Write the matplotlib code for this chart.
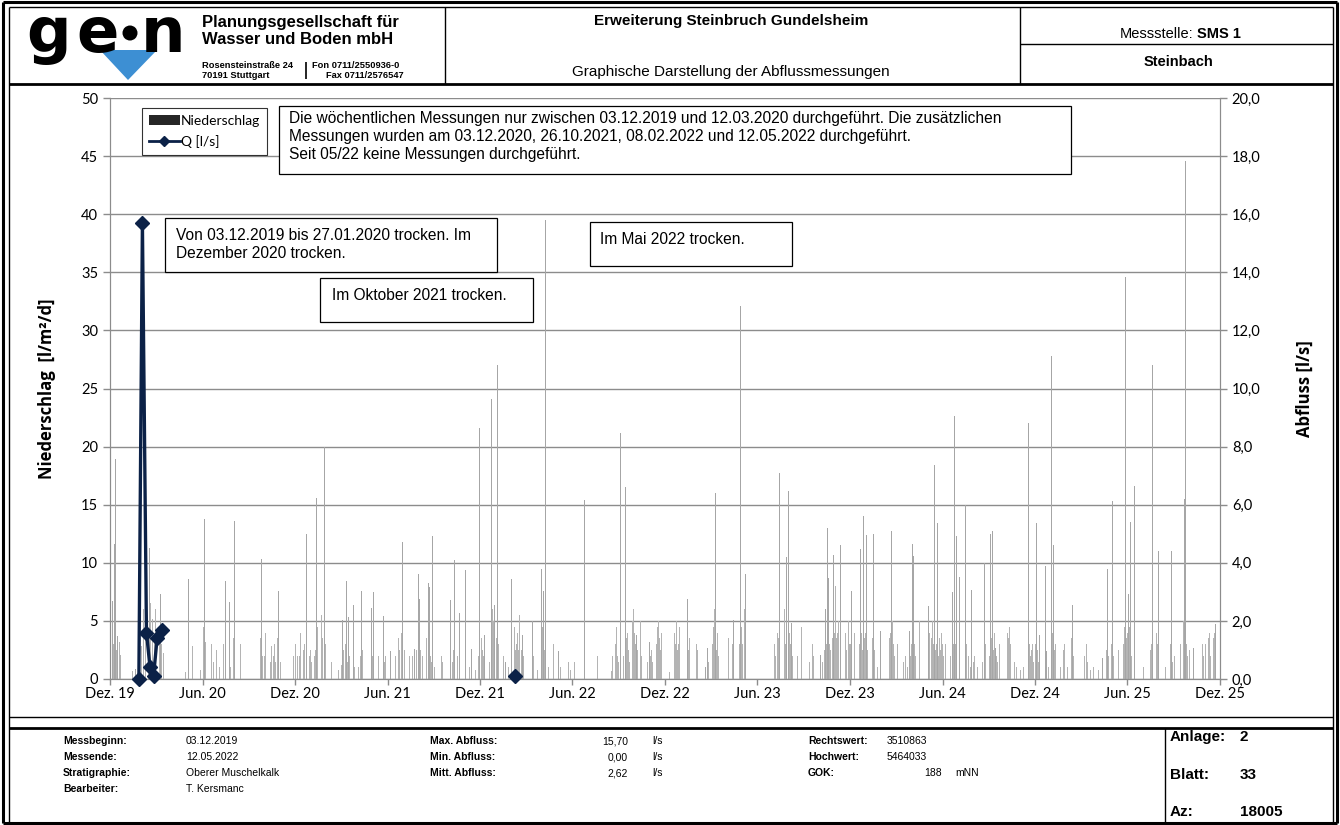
import numpy as np
import pandas as pd
import matplotlib
matplotlib.use("Agg")
import matplotlib.pyplot as plt
from matplotlib.patches import Rectangle, Polygon, Circle, Patch
from matplotlib.lines import Line2D


# daily precipitation, larger events
rain_dates = [
    "2019-12-06", "2019-12-10", "2019-12-12", "2019-12-16", "2019-12-25", "2020-01-04", "2020-01-09",
    "2020-01-20", "2020-02-04", "2020-02-14", "2020-02-17", "2020-02-26", "2020-02-28", "2020-03-05",
    "2020-03-10", "2020-03-19", "2020-05-01", "2020-05-04", "2020-05-11", "2020-05-23", "2020-06-04",
    "2020-06-05", "2020-06-17", "2020-06-27", "2020-07-16", "2020-07-24", "2020-08-03", "2020-08-14",
    "2020-08-18", "2020-08-31", "2020-09-01", "2020-09-24", "2020-09-25", "2020-10-06", "2020-10-26",
    "2020-10-29", "2020-11-11", "2020-11-30", "2020-12-04", "2020-12-06", "2020-12-23", "2020-12-24",
    "2021-01-03", "2021-01-12", "2021-01-21", "2021-01-28", "2021-01-29", "2021-02-03", "2021-02-19",
    "2021-03-04", "2021-03-12", "2021-03-16", "2021-03-26", "2021-04-11", "2021-04-30", "2021-05-04",
    "2021-05-09", "2021-05-21", "2021-05-24", "2021-06-07", "2021-06-22", "2021-06-28", "2021-07-01",
    "2021-07-04", "2021-07-08", "2021-07-10", "2021-07-24", "2021-08-01", "2021-08-03", "2021-08-08",
    "2021-08-16", "2021-08-21", "2021-08-23", "2021-08-29", "2021-08-30", "2021-09-15", "2021-09-25",
    "2021-10-03", "2021-10-11", "2021-10-20", "2021-10-21", "2021-11-02", "2021-11-14", "2021-11-30",
    "2021-12-03", "2021-12-10", "2021-12-23", "2021-12-26", "2021-12-29", "2022-01-03", "2022-01-04",
    "2022-01-07", "2022-01-20", "2022-02-01", "2022-02-06", "2022-02-16", "2022-02-23", "2022-03-14",
    "2022-04-01", "2022-04-05", "2022-04-09", "2022-04-24", "2022-05-05", "2022-05-22", "2022-06-04",
    "2022-06-25", "2022-06-30", "2022-07-20", "2022-08-16", "2022-08-26", "2022-09-04", "2022-09-09",
    "2022-09-13", "2022-09-14", "2022-09-17", "2022-09-27", "2022-10-01", "2022-10-06", "2022-10-13",
    "2022-10-21", "2022-10-31", "2022-11-09", "2022-11-17", "2022-11-19", "2022-11-27", "2022-12-07",
    "2022-12-21", "2022-12-23", "2023-01-08", "2023-01-14", "2023-01-19", "2023-02-02", "2023-02-19",
    "2023-02-23", "2023-03-08", "2023-03-11", "2023-03-25", "2023-03-28", "2023-04-12", "2023-04-15",
    "2023-04-29", "2023-05-06", "2023-05-09", "2023-05-16", "2023-06-20", "2023-07-04", "2023-07-10",
    "2023-07-15", "2023-07-24", "2023-07-29", "2023-08-01", "2023-08-02", "2023-08-08", "2023-08-25",
    "2023-08-31", "2023-09-17", "2023-10-04", "2023-10-14", "2023-10-18", "2023-10-20", "2023-10-29",
    "2023-10-30", "2023-11-12", "2023-11-13", "2023-11-18", "2023-11-27", "2023-12-04", "2023-12-09",
    "2023-12-21", "2023-12-22", "2023-12-28", "2024-01-03", "2024-01-17", "2024-01-22", "2024-01-31",
    "2024-02-06", "2024-02-07", "2024-02-21", "2024-02-22", "2024-03-11", "2024-03-28", "2024-04-03",
    "2024-04-05", "2024-04-16", "2024-04-20", "2024-05-04", "2024-05-09", "2024-05-15", "2024-05-16",
    "2024-05-22", "2024-05-29", "2024-05-31", "2024-06-14", "2024-06-21", "2024-06-25", "2024-06-29",
    "2024-07-05", "2024-07-09", "2024-07-16", "2024-07-28", "2024-07-31", "2024-08-06", "2024-08-14",
    "2024-08-23", "2024-09-04", "2024-09-08", "2024-09-14", "2024-09-25", "2024-09-30", "2024-10-06",
    "2024-10-10", "2024-10-14", "2024-11-11", "2024-11-18", "2024-11-19", "2024-12-04", "2024-12-10",
    "2024-12-21", "2024-12-23", "2025-01-02", "2025-01-06", "2025-01-23", "2025-02-12", "2025-02-13",
    "2025-02-26", "2025-03-11", "2025-03-31", "2025-04-13", "2025-04-23", "2025-05-03", "2025-05-21",
    "2025-05-28", "2025-06-03", "2025-06-07", "2025-06-15", "2025-07-06", "2025-07-16", "2025-07-21",
    "2025-07-28", "2025-07-30", "2025-08-02", "2025-08-27", "2025-09-05", "2025-09-09", "2025-09-22",
    "2025-09-24", "2025-10-10", "2025-10-21", "2025-10-25", "2025-10-30", "2025-11-15", "2025-11-22",
]
rain_mm = [
    6.7, 11.6, 18.9, 3.7, 10.2, 1.5, 1.2,
    0.9, 16.0, 10.6, 11.3, 12.3, 16.0, 14.8,
    7.3, 6.6, 5.6, 8.6, 23.6, 3.8, 11.3,
    13.8, 8.4, 3.7, 8.4, 6.6, 13.6, 7.0,
    6.0, 19.3, 13.5, 15.4, 10.3, 7.7, 10.2,
    7.6, 3.8, 8.6, 6.3, 5.7, 12.5, 7.6,
    5.6, 15.6, 13.1, 20.0, 5.6, 11.7, 4.0,
    5.1, 8.4, 5.3, 6.4, 7.6, 6.1, 7.5,
    6.7, 7.9, 5.4, 2.4, 29.0, 10.8, 11.8,
    5.9, 3.8, 17.0, 2.6, 9.0, 6.9, 3.8,
    9.0, 8.3, 7.9, 12.3, 5.9, 5.6, 2.4,
    6.8, 10.2, 19.3, 5.7, 9.4, 2.6, 21.6,
    11.0, 3.8, 24.1, 8.4, 6.4, 11.1, 27.0,
    5.9, 1.5, 8.6, 19.0, 14.0, 3.8, 5.0,
    9.5, 7.6, 39.5, 12.9, 2.4, 8.2, 2.7,
    15.4, 7.0, 11.3, 0.5, 16.0, 21.2, 5.9,
    21.0, 16.5, 6.9, 11.0, 29.8, 3.8, 13.5,
    12.5, 3.2, 3.8, 14.0, 17.0, 4.5, 1.0,
    6.0, 11.7, 4.8, 6.9, 4.9, 8.7, 1.0,
    2.7, 26.0, 16.0, 9.0, 8.7, 6.6, 5.1,
    32.1, 16.2, 9.0, 3.7, 6.0, 9.0, 10.0,
    17.7, 18.5, 10.5, 20.6, 16.2, 4.8, 9.1,
    14.4, 9.9, 2.1, 6.0, 13.0, 8.7, 16.5,
    10.7, 14.7, 11.5, 12.9, 21.6, 7.6, 8.5,
    18.5, 11.2, 14.0, 12.4, 12.5, 7.1, 4.1,
    18.0, 9.8, 12.7, 12.0, 6.1, 4.1, 11.6,
    10.6, 17.5, 18.5, 6.3, 1.7, 8.2, 18.4,
    13.4, 10.5, 16.4, 6.6, 7.5, 22.6, 12.3,
    8.8, 8.2, 15.0, 7.7, 5.5, 8.0, 8.8,
    10.0, 12.5, 12.7, 2.7, 19.3, 4.1, 42.3,
    12.6, 21.0, 3.7, 22.0, 18.3, 13.4, 3.8,
    9.7, 2.4, 27.8, 11.5, 4.0, 8.9, 6.4,
    4.8, 6.8, 1.8, 1.8, 9.5, 15.3, 6.3,
    34.6, 7.3, 13.5, 16.6, 2.5, 5.8, 27.0,
    34.5, 14.2, 11.0, 11.0, 3.0, 5.8, 15.5,
    44.6, 2.7, 7.9, 21.8, 3.5, 2.9, 4.7,
]

# light rain days (low band of the chart), estimated month by month
light_dates = [
    "2019-12-01", "2019-12-02", "2019-12-03", "2019-12-07", "2019-12-08", "2019-12-13", "2019-12-14",
    "2019-12-20", "2019-12-21", "2019-12-22", "2019-12-27", "2020-01-02", "2020-01-14", "2020-01-27",
    "2020-01-29", "2020-01-31", "2020-02-01", "2020-02-02", "2020-02-05", "2020-02-06", "2020-02-08",
    "2020-02-09", "2020-02-10", "2020-02-12", "2020-02-15", "2020-02-19", "2020-02-22", "2020-02-23",
    "2020-02-24", "2020-02-27", "2020-02-29", "2020-03-01", "2020-03-03", "2020-03-07", "2020-03-08",
    "2020-03-12", "2020-03-13", "2020-03-16", "2020-04-28", "2020-05-03", "2020-05-12", "2020-05-13",
    "2020-05-28", "2020-06-03", "2020-06-06", "2020-06-07", "2020-06-11", "2020-06-13", "2020-06-14",
    "2020-06-18", "2020-06-22", "2020-06-28", "2020-06-29", "2020-07-04", "2020-07-12", "2020-07-17",
    "2020-07-25", "2020-07-26", "2020-08-01", "2020-08-02", "2020-08-04", "2020-08-10", "2020-08-15",
    "2020-08-16", "2020-08-20", "2020-08-26", "2020-08-28", "2020-09-02", "2020-09-03", "2020-09-20",
    "2020-09-23", "2020-09-26", "2020-09-27", "2020-09-28", "2020-10-01", "2020-10-02", "2020-10-03",
    "2020-10-08", "2020-10-10", "2020-10-13", "2020-10-15", "2020-10-16", "2020-10-19", "2020-10-21",
    "2020-10-23", "2020-10-24", "2020-10-27", "2020-10-30", "2020-11-02", "2020-11-05", "2020-11-16",
    "2020-11-27", "2020-12-01", "2020-12-02", "2020-12-05", "2020-12-08", "2020-12-09", "2020-12-11",
    "2020-12-12", "2020-12-14", "2020-12-17", "2020-12-19", "2020-12-22", "2020-12-26", "2020-12-28",
    "2020-12-29", "2020-12-31", "2021-01-02", "2021-01-05", "2021-01-08", "2021-01-10", "2021-01-14",
    "2021-01-15", "2021-01-19", "2021-01-22", "2021-01-24", "2021-01-27", "2021-01-30", "2021-01-31",
    "2021-02-01", "2021-02-02", "2021-02-05", "2021-02-06", "2021-02-10", "2021-02-24", "2021-03-02",
    "2021-03-06", "2021-03-10", "2021-03-11", "2021-03-14", "2021-03-18", "2021-03-28", "2021-04-05",
    "2021-04-09", "2021-04-13", "2021-04-20", "2021-04-26", "2021-05-02", "2021-05-05", "2021-05-07",
    "2021-05-11", "2021-05-13", "2021-05-14", "2021-05-17", "2021-05-19", "2021-05-23", "2021-05-26",
    "2021-05-28", "2021-06-04", "2021-06-10", "2021-06-17", "2021-06-23", "2021-06-25", "2021-06-29",
    "2021-06-30", "2021-07-02", "2021-07-05", "2021-07-06", "2021-07-12", "2021-07-13", "2021-07-14",
    "2021-07-17", "2021-07-20", "2021-07-25", "2021-07-28", "2021-08-02", "2021-08-05", "2021-08-09",
    "2021-08-12", "2021-08-17", "2021-08-18", "2021-08-22", "2021-08-25", "2021-08-27", "2021-09-01",
    "2021-09-02", "2021-09-16", "2021-09-18", "2021-09-24", "2021-10-04", "2021-10-07", "2021-10-09",
    "2021-10-12", "2021-10-17", "2021-10-22", "2021-10-28", "2021-11-03", "2021-11-05", "2021-11-10",
    "2021-11-19", "2021-11-22", "2021-11-28", "2021-12-01", "2021-12-04", "2021-12-06", "2021-12-08",
    "2021-12-12", "2021-12-15", "2021-12-19", "2021-12-22", "2021-12-24", "2021-12-25", "2021-12-27",
    "2021-12-30", "2022-01-01", "2022-01-02", "2022-01-05", "2022-01-06", "2022-01-09", "2022-01-13",
    "2022-01-16", "2022-01-26", "2022-01-29", "2022-02-02", "2022-02-04", "2022-02-07", "2022-02-09",
    "2022-02-11", "2022-02-13", "2022-02-15", "2022-02-17", "2022-02-18", "2022-02-20", "2022-02-21",
    "2022-02-25", "2022-03-02", "2022-03-16", "2022-03-24", "2022-04-02", "2022-04-03", "2022-04-07",
    "2022-04-08", "2022-04-10", "2022-04-15", "2022-04-22", "2022-04-25", "2022-04-28", "2022-05-09",
    "2022-05-16", "2022-05-19", "2022-05-23", "2022-05-24", "2022-05-28", "2022-06-05", "2022-06-12",
    "2022-06-22", "2022-06-24", "2022-06-26", "2022-06-28", "2022-07-04", "2022-07-21", "2022-08-17",
    "2022-08-19", "2022-08-25", "2022-08-27", "2022-08-29", "2022-08-31", "2022-09-01", "2022-09-03",
    "2022-09-05", "2022-09-07", "2022-09-10", "2022-09-15", "2022-09-16", "2022-09-18", "2022-09-20",
    "2022-09-22", "2022-09-25", "2022-09-28", "2022-09-30", "2022-10-02", "2022-10-04", "2022-10-08",
    "2022-10-11", "2022-10-14", "2022-10-16", "2022-10-19", "2022-10-22", "2022-10-24", "2022-10-27",
    "2022-11-02", "2022-11-04", "2022-11-06", "2022-11-11", "2022-11-14", "2022-11-16", "2022-11-18",
    "2022-11-20", "2022-11-22", "2022-11-24", "2022-11-25", "2022-11-29", "2022-12-03", "2022-12-10",
    "2022-12-15", "2022-12-19", "2022-12-20", "2022-12-22", "2022-12-24", "2022-12-26", "2022-12-28",
    "2022-12-30", "2023-01-02", "2023-01-04", "2023-01-06", "2023-01-09", "2023-01-10", "2023-01-12",
    "2023-01-15", "2023-01-16", "2023-01-18", "2023-01-21", "2023-01-25", "2023-01-29", "2023-02-01",
    "2023-02-03", "2023-02-06", "2023-02-12", "2023-02-25", "2023-03-02", "2023-03-05", "2023-03-07",
    "2023-03-09", "2023-03-10", "2023-03-13", "2023-03-15", "2023-03-17", "2023-03-20", "2023-03-22",
    "2023-03-24", "2023-03-26", "2023-03-30", "2023-04-02", "2023-04-05", "2023-04-08", "2023-04-10",
    "2023-04-13", "2023-04-16", "2023-04-20", "2023-04-24", "2023-04-27", "2023-05-01", "2023-05-03",
    "2023-05-07", "2023-05-10", "2023-05-12", "2023-05-14", "2023-05-18", "2023-05-22", "2023-06-16",
    "2023-06-22", "2023-06-28", "2023-07-05", "2023-07-07", "2023-07-11", "2023-07-13", "2023-07-16",
    "2023-07-18", "2023-07-20", "2023-07-22", "2023-07-25", "2023-07-27", "2023-07-30", "2023-08-03",
    "2023-08-04", "2023-08-06", "2023-08-10", "2023-08-13", "2023-08-17", "2023-08-20", "2023-08-27",
    "2023-08-28", "2023-09-02", "2023-09-12", "2023-09-18", "2023-09-20", "2023-09-25", "2023-10-08",
    "2023-10-12", "2023-10-15", "2023-10-16", "2023-10-19", "2023-10-21", "2023-10-22", "2023-10-24",
    "2023-10-25", "2023-10-27", "2023-10-28", "2023-10-31", "2023-11-01", "2023-11-02", "2023-11-03",
    "2023-11-04", "2023-11-05", "2023-11-06", "2023-11-07", "2023-11-08", "2023-11-09", "2023-11-10",
    "2023-11-14", "2023-11-15", "2023-11-16", "2023-11-19", "2023-11-20", "2023-11-22", "2023-11-24",
    "2023-11-25", "2023-11-28", "2023-11-30", "2023-12-01", "2023-12-02", "2023-12-03", "2023-12-05",
    "2023-12-07", "2023-12-10", "2023-12-11", "2023-12-13", "2023-12-15", "2023-12-17", "2023-12-19",
    "2023-12-20", "2023-12-23", "2023-12-24", "2023-12-26", "2023-12-30", "2024-01-01", "2024-01-02",
    "2024-01-05", "2024-01-08", "2024-01-12", "2024-01-15", "2024-01-18", "2024-01-19", "2024-01-25",
    "2024-01-28", "2024-02-01", "2024-02-03", "2024-02-05", "2024-02-08", "2024-02-10", "2024-02-12",
    "2024-02-14", "2024-02-17", "2024-02-19", "2024-02-23", "2024-02-25", "2024-02-27", "2024-03-01",
    "2024-03-04", "2024-03-07", "2024-03-09", "2024-03-13", "2024-03-16", "2024-03-20", "2024-03-24",
    "2024-03-30", "2024-04-01", "2024-04-04", "2024-04-07", "2024-04-09", "2024-04-12", "2024-04-14",
    "2024-04-17", "2024-04-18", "2024-04-22", "2024-04-24", "2024-04-27", "2024-04-29", "2024-05-01",
    "2024-05-03", "2024-05-06", "2024-05-10", "2024-05-12", "2024-05-14", "2024-05-17", "2024-05-18",
    "2024-05-20", "2024-05-24", "2024-05-26", "2024-05-28", "2024-05-30", "2024-06-01", "2024-06-03",
    "2024-06-07", "2024-06-10", "2024-06-12", "2024-06-17", "2024-06-23", "2024-06-26", "2024-06-27",
    "2024-06-30", "2024-07-02", "2024-07-07", "2024-07-10", "2024-07-13", "2024-07-18", "2024-07-22",
    "2024-07-26", "2024-08-01", "2024-08-03", "2024-08-09", "2024-08-16", "2024-08-19", "2024-08-25",
    "2024-08-28", "2024-09-02", "2024-09-06", "2024-09-10", "2024-09-12", "2024-09-13", "2024-09-16",
    "2024-09-18", "2024-09-22", "2024-09-26", "2024-09-28", "2024-10-02", "2024-10-04", "2024-10-07",
    "2024-10-08", "2024-10-09", "2024-10-11", "2024-10-13", "2024-10-16", "2024-10-18", "2024-10-21",
    "2024-10-25", "2024-11-02", "2024-11-08", "2024-11-13", "2024-11-15", "2024-11-17", "2024-11-20",
    "2024-11-21", "2024-11-22", "2024-11-24", "2024-11-26", "2024-11-28", "2024-12-01", "2024-12-02",
    "2024-12-05", "2024-12-06", "2024-12-08", "2024-12-12", "2024-12-15", "2024-12-18", "2024-12-20",
    "2024-12-22", "2024-12-27", "2024-12-30", "2025-01-01", "2025-01-03", "2025-01-04", "2025-01-05",
    "2025-01-08", "2025-01-10", "2025-01-13", "2025-01-17", "2025-01-20", "2025-01-26", "2025-01-28",
    "2025-02-03", "2025-02-10", "2025-02-11", "2025-02-14", "2025-02-15", "2025-02-18", "2025-02-24",
    "2025-03-03", "2025-03-08", "2025-03-12", "2025-03-14", "2025-03-20", "2025-03-26", "2025-04-05",
    "2025-04-18", "2025-04-21", "2025-04-25", "2025-04-28", "2025-05-01", "2025-05-05", "2025-05-08",
    "2025-05-15", "2025-05-18", "2025-05-22", "2025-05-24", "2025-05-26", "2025-05-29", "2025-05-30",
    "2025-06-01", "2025-06-02", "2025-06-05", "2025-06-06", "2025-06-09", "2025-06-12", "2025-06-18",
    "2025-06-24", "2025-07-03", "2025-07-10", "2025-07-14", "2025-07-17", "2025-07-19", "2025-07-22",
    "2025-07-24", "2025-07-26", "2025-07-29", "2025-07-31", "2025-08-01", "2025-08-04", "2025-08-06",
    "2025-08-10", "2025-08-15", "2025-08-22", "2025-08-25", "2025-08-29", "2025-09-02", "2025-09-07",
    "2025-09-11", "2025-09-14", "2025-09-17", "2025-09-19", "2025-09-20", "2025-09-23", "2025-09-25",
    "2025-09-26", "2025-09-28", "2025-10-02", "2025-10-05", "2025-10-13", "2025-10-17", "2025-10-19",
    "2025-10-20", "2025-10-22", "2025-10-23", "2025-10-24", "2025-10-26", "2025-10-27", "2025-10-29",
    "2025-11-02", "2025-11-05", "2025-11-08", "2025-11-10", "2025-11-12", "2025-11-18", "2025-11-20",
    "2025-11-25", "2025-11-27", "2025-11-29",
]
light_mm = [
    2.8, 3.5, 1.2, 2.0, 3.0, 4.0, 2.5, 3.2, 1.4, 2.1, 0.8, 0.6, 0.7, 0.5, 2.2, 3.5,
    2.8, 5.5, 6.0, 3.0, 4.5, 8.0, 5.0, 3.5, 4.2, 6.5, 3.0, 5.2, 2.0, 4.0, 6.0,
    3.2, 5.5, 2.5, 4.0, 3.0, 1.8, 2.2, 0.6, 1.8, 2.8, 1.5, 0.8,
    4.5, 6.0, 3.2, 2.0, 5.0, 2.5, 3.0, 1.5, 2.5, 1.2, 1.0, 3.0, 2.0, 2.6, 1.0,
    3.5, 2.5, 4.0, 2.0, 3.0, 1.5, 3.8, 2.2, 1.8, 2.5, 1.0, 2.0, 3.5, 4.5, 2.0, 1.2,
    2.0, 3.5, 4.0, 2.5, 3.0, 1.5, 2.8, 4.0, 2.0, 3.0, 1.5, 2.5, 3.5, 2.0,
    1.5, 0.6, 1.0, 2.0, 3.0, 4.5, 2.0, 3.5, 2.0, 4.0, 2.5, 1.5, 2.5, 3.0, 4.5, 3.0, 4.0, 2.0, 2.5,
    1.5, 3.0, 2.0, 2.5, 4.5, 3.0, 2.0, 5.5, 3.5, 4.0, 3.0, 2.0, 4.5, 3.0, 2.0, 3.5, 1.5, 0.8,
    1.2, 2.5, 3.0, 2.0, 1.5, 2.0, 1.0, 1.0, 2.0, 2.5, 0.8, 1.5,
    2.0, 3.0, 2.5, 3.5, 4.0, 2.0, 3.0, 2.5, 3.0, 1.5, 2.0, 1.0, 1.5, 2.0, 3.5, 2.5, 4.0, 3.0,
    4.0, 2.5, 3.0, 3.0, 4.5, 2.0, 1.5, 2.0, 1.0, 2.5, 3.0, 2.5, 2.0, 1.5, 3.5, 2.0, 3.0, 2.0, 1.5,
    2.0, 1.0, 2.0, 1.5, 1.0, 2.0, 1.5, 2.5, 3.0, 2.0, 3.0, 1.0, 2.5, 1.5, 1.0, 1.5, 0.8, 2.0,
    4.5, 3.5, 2.5, 2.0, 1.5, 0.8, 1.5, 3.5, 4.0, 6.0, 5.0, 3.5, 4.5, 3.5, 7.0, 3.0, 2.0, 1.5, 2.0, 1.0, 1.5,
    2.0, 3.5, 4.5, 2.5, 3.0, 4.0, 2.5, 5.5, 3.0, 4.0, 2.5, 2.0, 1.0, 2.0, 0.8,
    3.0, 4.5, 2.5, 3.5, 2.0, 1.0, 2.5, 3.0, 1.5, 1.0, 2.5, 2.0, 2.5, 1.5, 0.8,
    1.5, 0.6, 4.0, 2.5, 3.0, 2.0, 1.2, 2.0, 0.7, 2.0, 3.0, 4.5, 2.0, 1.5,
    3.0, 2.5, 4.0, 3.0, 2.0, 7.0, 3.5, 4.0, 2.5, 1.5, 3.0, 5.0, 6.0,
    4.0, 3.0, 2.5, 3.5, 5.0, 2.0, 3.0, 4.5, 2.0, 1.5,
    2.0, 2.5, 1.5, 2.0, 3.0, 4.5, 5.0, 3.5, 2.5, 4.0, 2.0, 1.5,
    0.8, 0.6, 1.0, 2.5, 4.0, 3.0, 5.0, 2.5, 3.0, 4.5,
    3.0, 2.0, 4.5, 3.5, 2.0, 3.0, 4.0, 2.5, 3.5, 2.0, 1.0, 1.5, 3.0, 2.5, 1.0, 0.8, 1.5,
    2.0, 3.0, 4.5, 6.0, 3.5, 2.5, 4.0, 2.0, 3.0, 2.5, 4.5, 2.5, 3.0,
    2.0, 3.5, 2.5, 4.0, 3.0, 2.0, 1.5, 2.0, 3.0, 4.5, 3.0, 6.0, 4.0, 2.0, 3.0, 1.5, 1.0,
    1.5, 2.5, 1.0, 3.0, 2.0, 4.0, 3.5, 5.0, 3.0, 2.5, 4.0, 6.0, 3.0, 5.0,
    6.0, 4.0, 3.0, 2.0, 1.5, 1.0, 2.0, 3.0, 4.5, 2.0, 1.5, 3.0, 2.0, 1.0,
    1.5, 2.5, 4.0, 3.0, 4.5, 5.5, 3.0, 2.5, 4.0, 5.0, 3.5, 6.0,
    4.0, 3.0, 8.0, 5.0, 3.5, 6.5, 4.0, 2.5, 5.0, 3.0, 6.0, 4.0, 3.0, 5.5, 3.5, 4.0, 2.5, 3.0, 5.0, 3.0,
    4.5, 3.0, 5.0, 3.5, 2.5, 4.0, 3.0, 5.5, 3.0, 2.0, 4.0, 3.0, 5.0, 4.0, 2.5, 3.5,
    4.0, 3.0, 2.5, 1.5, 2.0, 3.5, 4.5, 2.5, 1.0, 1.5,
    2.0, 3.0, 5.0, 4.0, 3.0, 2.0, 2.5, 3.5, 4.0, 5.0, 3.0, 2.0,
    2.5, 3.0, 2.0, 4.0, 2.5, 1.5, 2.0, 1.0, 2.0,
    3.0, 4.5, 3.0, 2.0, 3.5, 4.0, 5.0, 3.0, 4.0, 2.5, 2.0, 1.5,
    3.0, 2.0, 4.0, 3.5, 5.0, 3.0, 4.0, 2.5, 3.0, 2.0, 3.5, 2.5, 4.0,
    3.0, 2.0, 3.0, 2.5, 1.5, 2.0, 3.0, 4.5, 3.0, 2.0,
    2.5, 3.0, 2.0, 1.5, 3.0, 2.0, 1.0, 1.5, 2.0, 1.0, 2.5, 1.5, 3.0, 2.0,
    2.0, 3.5, 2.5, 4.0, 3.0, 2.0, 1.5, 3.0, 4.5, 2.5,
    3.0, 5.0, 4.0, 6.0, 3.5, 4.5, 3.0, 2.5, 2.0, 1.5, 1.0,
    0.8, 1.0, 2.5, 3.5, 4.5, 3.0, 5.0, 2.0, 2.5, 3.0, 1.5,
    2.0, 3.0, 4.0, 2.5, 1.5, 2.0, 3.0, 2.5, 4.0, 3.0, 1.0, 2.0,
    3.5, 6.0, 4.0, 3.0, 2.5, 3.0, 2.0, 1.5, 1.0, 2.5, 3.0,
    1.0, 2.5, 3.5, 4.0, 2.0, 1.5, 2.0, 1.0, 2.0, 3.0, 1.5, 0.8, 1.0,
    0.8, 1.0, 2.5, 2.0, 1.5, 3.0, 2.0, 1.5, 2.5, 3.0, 4.0, 3.0, 4.5, 5.0, 3.5,
    4.0, 3.0, 4.5, 3.0, 2.0, 2.5, 1.5, 1.0,
    1.0, 1.5, 2.0, 2.5, 3.0, 4.0, 5.0, 3.5, 4.0, 3.0, 3.0, 4.5, 2.0, 1.5, 1.0, 2.0, 3.0, 1.5,
    2.0, 1.5, 2.5, 3.0, 2.0, 3.5, 5.0, 6.0, 4.5, 3.0, 2.0,
    2.5, 1.5, 2.0, 3.0, 4.5, 6.0, 5.0, 4.0, 5.5, 4.0, 3.0, 2.0,
    3.0, 2.0, 3.5, 4.0, 2.0, 3.5, 4.0, 2.5, 3.0, 4.5,
]

# discharge measurements (nan = trocken)
q_dates = ["2019-12-03", "2019-12-10", "2019-12-17", "2020-01-07", "2020-01-21", "2020-01-27",
           "2020-02-03", "2020-02-11", "2020-02-18", "2020-02-25", "2020-03-03", "2020-03-12",
           "2020-12-03", "2021-10-26", "2022-02-08", "2022-05-12"]
q_values = [np.nan, np.nan, np.nan, np.nan, np.nan, 0.0,
            15.7, 1.6, 0.4, 0.1, 1.4, 1.7,
            np.nan, np.nan, 0.1, np.nan]

x_tick_dates = ["2019-12-01", "2020-06-01", "2020-12-01", "2021-06-01", "2021-12-01", "2022-06-01",
                "2022-12-01", "2023-06-01", "2023-12-01", "2024-06-01", "2024-12-01", "2025-06-01",
                "2025-12-01"]
x_tick_labels = ["Dez. 19", "Jun. 20", "Dez. 20", "Jun. 21", "Dez. 21", "Jun. 22", "Dez. 22",
                 "Jun. 23", "Dez. 23", "Jun. 24", "Dez. 24", "Jun. 25", "Dez. 25"]
left_ticks = [0, 5, 10, 15, 20, 25, 30, 35, 40, 45, 50]
right_ticks = [0, 2, 4, 6, 8, 10, 12, 14, 16, 18, 20]
right_tick_labels = ["0,0", "2,0", "4,0", "6,0", "8,0", "10,0", "12,0", "14,0", "16,0", "18,0", "20,0"]

W, H = 1340, 825
AX_FONT = ["Lato", "DejaVu Sans"]
TXT_FONT = ["Liberation Sans", "DejaVu Sans"]
NARROW = ["Liberation Sans Narrow", "Liberation Sans", "DejaVu Sans"]
NAVY = "#0b2147"

fig = plt.figure(figsize=(W / 100, H / 100), dpi=100)

# ---- chart
ax = fig.add_axes([110 / W, 1 - 679 / H, 1110 / W, 581 / H])
ax2 = ax.twinx()

ax.bar(pd.to_datetime(light_dates), light_mm, width=0.9, color="#b4b4b4", linewidth=0, zorder=2)
ax.bar(pd.to_datetime(rain_dates), rain_mm, width=0.9, color="#a6a6a6", linewidth=0, zorder=2)
ax.set_ylim(0, 50)
ax.set_yticks(left_ticks)
ax.set_yticklabels([str(t) for t in left_ticks], fontsize=10.5, family=AX_FONT)
ax.grid(axis="y", color="#8c8c8c", lw=1)
ax.set_axisbelow(True)

xt = pd.to_datetime(x_tick_dates)
ax.set_xlim(xt[0], xt[-1])
ax.set_xticks(xt)
ax.set_xticklabels(x_tick_labels, fontsize=10.5, family=AX_FONT)

qd = pd.to_datetime(q_dates)
ax2.plot(qd, q_values, color=NAVY, lw=2.4, marker="D", ms=7, zorder=5, clip_on=False)
ax2.set_ylim(0, 20)
ax2.set_yticks(right_ticks)
ax2.set_yticklabels(right_tick_labels, fontsize=10.5, family=AX_FONT)

for a in (ax, ax2):
    for s in a.spines.values():
        s.set_color("#8c8c8c")
    a.spines["top"].set_visible(False)
    a.tick_params(colors="#8c8c8c", labelcolor="black", length=5, width=1)
ax.tick_params(axis="x", length=4, pad=2)

ax.set_ylabel("Niederschlag  [l/m²/d]", fontsize=12, fontweight="bold", family=["Open Sans", "DejaVu Sans"])
ax.yaxis.set_label_coords(-0.049, 0.5)
ax2.set_ylabel("Abfluss [l/s]", fontsize=12, fontweight="bold", family=["Open Sans", "DejaVu Sans"])
ax2.yaxis.set_label_coords(1.068, 0.5)

handles = [Patch(facecolor="#262626", edgecolor="none"),
           Line2D([], [], color=NAVY, lw=2, marker="D", ms=5)]
leg = ax2.legend(handles, ["Niederschlag", "Q [l/s]"], loc="upper left",
                 bbox_to_anchor=(142 / W, 1 - 108 / H), bbox_transform=fig.transFigure,
                 prop={"family": AX_FONT, "size": 10}, frameon=True, fancybox=False,
                 edgecolor="black", handlelength=2.2, handletextpad=0.1, borderpad=0.5,
                 labelspacing=0.6, borderaxespad=0)
leg.get_frame().set_linewidth(0.8)

# ---- page frame / header / footer (pixel coords)
ov = fig.add_axes([0, 0, 1, 1])
ov.set_xlim(0, W)
ov.set_ylim(H, 0)
ov.axis("off")


def line(x0, y0, x1, y1, lw=1.0, c="black"):
    ov.plot([x0, x1], [y0, y1], color=c, lw=lw, solid_capstyle="butt")


def box(x0, y0, x1, y1, lw=0.9):
    ov.add_patch(Rectangle((x0, y0), x1 - x0, y1 - y0, facecolor="white", edgecolor="black", lw=lw, zorder=3))


line(3, 2, 1337, 2, lw=2.2)
line(3, 823, 1337, 823, lw=2.2)
line(3, 2, 3, 823, lw=2.2)
line(1337, 2, 1337, 823, lw=2.2)
line(9, 7, 9, 823, lw=1.0)
line(9, 7, 1333, 7, lw=1.0)
line(1333, 7, 1333, 823, lw=1.0)
line(9, 84, 1333, 84, lw=2.0)
line(445, 7, 445, 84, lw=1.0)
line(1020, 7, 1020, 84, lw=1.0)
line(1020, 44, 1333, 44, lw=1.0)
line(9, 717, 1333, 717, lw=1.0)
line(9, 728, 1333, 728, lw=2.0)
line(1165, 728, 1165, 823, lw=1.0)

# logo
ov.add_patch(Polygon([[100, 50], [157, 50], [128, 80]], closed=True, facecolor="#3d8fd3", edgecolor="none"))
ov.add_patch(Circle((130, 33), 15, facecolor="white", edgecolor="none"))
ov.add_patch(Circle((130, 33), 7.5, facecolor="black", edgecolor="none"))
for lx, letter in [(26, "g"), (76, "e"), (141, "n")]:
    ov.text(lx, 52, letter, fontsize=45, fontweight="heavy", family="DejaVu Sans", color="black",
            va="baseline")

ov.text(202, 22, "Planungsgesellschaft für", fontsize=12, fontweight="bold", family=TXT_FONT, va="center")
ov.text(202, 39, "Wasser und Boden mbH", fontsize=12, fontweight="bold", family=TXT_FONT, va="center")
ov.text(202, 66, "Rosensteinstraße 24", fontsize=6.7, fontweight="bold", family=TXT_FONT, va="center")
ov.text(202, 76, "70191 Stuttgart", fontsize=6.7, fontweight="bold", family=TXT_FONT, va="center")
line(306, 62, 306, 79, lw=1.2)
ov.text(312, 66, "Fon 0711/2550936-0", fontsize=6.7, fontweight="bold", family=TXT_FONT, va="center")
ov.text(404, 76, "Fax 0711/2576547", fontsize=6.7, fontweight="bold", family=TXT_FONT, va="center", ha="right")

ov.text(731, 21, "Erweiterung Steinbruch Gundelsheim", fontsize=11, fontweight="bold", family=NARROW,
        ha="center", va="center")
ov.text(731, 72, "Graphische Darstellung der Abflussmessungen", fontsize=11, family=NARROW,
        ha="center", va="center")
ov.text(1193, 34, "Messstelle:", fontsize=10.5, family=NARROW, ha="right", va="center")
ov.text(1197, 34, "SMS 1", fontsize=10.5, fontweight="bold", family=NARROW, ha="left", va="center")
ov.text(1178, 62, "Steinbach", fontsize=10.5, fontweight="bold", family=NARROW, ha="center", va="center")

# annotation boxes in the chart
afs = 11.2
box(279, 106, 1071, 174)
ov.text(289, 119, "Die wöchentlichen Messungen nur zwischen 03.12.2019 und 12.03.2020 durchgeführt. Die zusätzlichen",
        fontsize=afs, family=TXT_FONT, va="center", zorder=4)
ov.text(289, 137, "Messungen wurden am 03.12.2020, 26.10.2021, 08.02.2022 und 12.05.2022 durchgeführt.",
        fontsize=afs, family=TXT_FONT, va="center", zorder=4)
ov.text(289, 155, "Seit 05/22 keine Messungen durchgeführt.", fontsize=afs, family=TXT_FONT, va="center", zorder=4)

box(165, 218, 497, 272)
ov.text(176, 235, "Von 03.12.2019 bis 27.01.2020 trocken. Im", fontsize=afs, family=TXT_FONT, va="center", zorder=4)
ov.text(176, 253, "Dezember 2020 trocken.", fontsize=afs, family=TXT_FONT, va="center", zorder=4)

box(320, 278, 533, 322)
ov.text(332, 296, "Im Oktober 2021 trocken.", fontsize=afs, family=TXT_FONT, va="center", zorder=4)

box(590, 222, 792, 266)
ov.text(600, 240, "Im Mai 2022 trocken.", fontsize=afs, family=TXT_FONT, va="center", zorder=4)

# footer table
fs = 7.5
rows = [741, 757, 773, 789]
for y, lab, val in zip(rows, ["Messbeginn:", "Messende:", "Stratigraphie:", "Bearbeiter:"],
                       ["03.12.2019", "12.05.2022", "Oberer Muschelkalk", "T. Kersmanc"]):
    ov.text(63, y, lab, fontsize=fs, fontweight="bold", family=NARROW, va="center")
    ov.text(186, y, val, fontsize=fs, family=NARROW, va="center")
for y, lab, val in zip(rows[:3], ["Max. Abfluss:", "Min. Abfluss:", "Mitt. Abfluss:"], ["15,70", "0,00", "2,62"]):
    ov.text(430, y, lab, fontsize=fs, fontweight="bold", family=NARROW, va="center")
    ov.text(628, y, val, fontsize=fs, family=NARROW, va="center", ha="right")
    ov.text(652, y, "l/s", fontsize=fs, family=NARROW, va="center")
for y, lab, val in zip(rows[:3], ["Rechtswert:", "Hochwert:", "GOK:"], ["3510863", "5464033", ""]):
    ov.text(808, y, lab, fontsize=fs, fontweight="bold", family=NARROW, va="center")
    ov.text(887, y, val, fontsize=fs, family=NARROW, va="center")
ov.text(942, rows[2], "188", fontsize=fs, family=NARROW, va="center", ha="right")
ov.text(955, rows[2], "mNN", fontsize=fs, family=NARROW, va="center")

for y, lab, val in zip([737, 775, 812], ["Anlage:", "Blatt:", "Az:"], ["2", "33", "18005"]):
    ov.text(1170, y, lab, fontsize=11, fontweight="bold", family=NARROW, va="center")
    ov.text(1240, y, val, fontsize=11, fontweight="bold", family=NARROW, va="center")

fig.savefig("out.png", dpi=100)
